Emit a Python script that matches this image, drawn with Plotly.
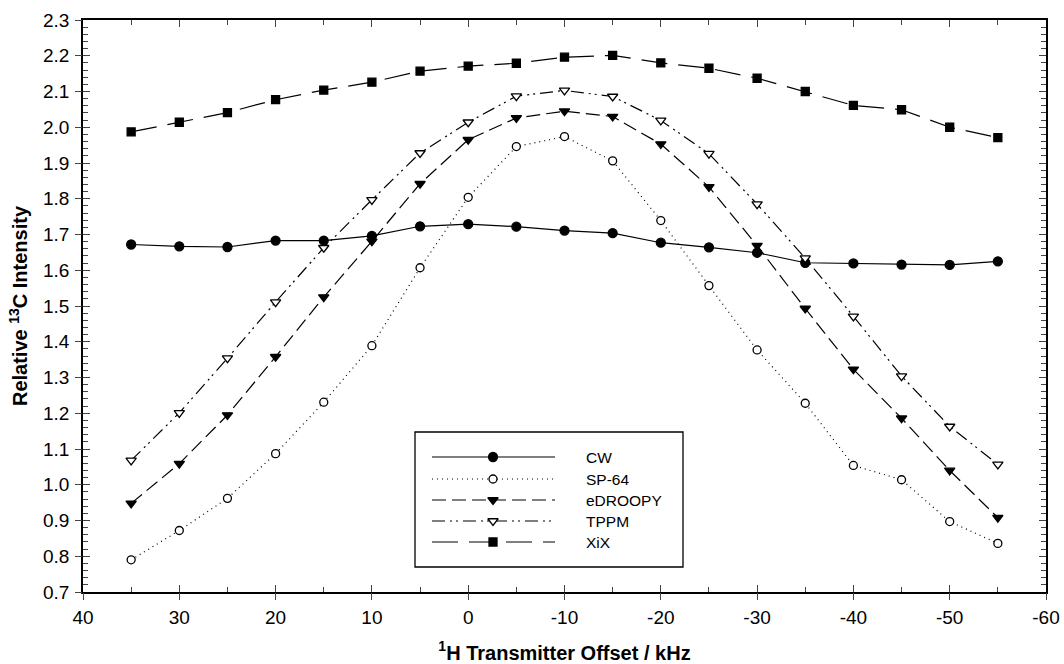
import plotly.graph_objects as go

offset = [35, 30, 25, 20, 15, 10, 5, 0, -5, -10, -15, -20, -25, -30, -35, -40, -45, -50, -55]
cw = [1.672, 1.667, 1.665, 1.683, 1.683, 1.696, 1.723, 1.729, 1.722, 1.711, 1.704, 1.677,
      1.664, 1.649, 1.621, 1.619, 1.616, 1.615, 1.625]
sp64 = [0.790, 0.872, 0.962, 1.087, 1.231, 1.389, 1.607, 1.804, 1.946, 1.974, 1.906, 1.739,
        1.557, 1.377, 1.228, 1.054, 1.014, 0.897, 0.836]
edroopy = [0.948, 1.059, 1.195, 1.358, 1.525, 1.681, 1.842, 1.965, 2.026, 2.045, 2.030, 1.953,
           1.833, 1.669, 1.493, 1.323, 1.186, 1.040, 0.908]
tppm = [1.068, 1.201, 1.354, 1.511, 1.663, 1.797, 1.928, 2.014, 2.087, 2.103, 2.086, 2.019,
        1.926, 1.785, 1.634, 1.471, 1.304, 1.163, 1.057]
xix = [1.987, 2.014, 2.041, 2.077, 2.104, 2.126, 2.157, 2.171, 2.179, 2.196, 2.201, 2.180,
       2.165, 2.137, 2.100, 2.061, 2.049, 2.000, 1.971]

series_names = ["CW", "SP-64", "eDROOPY", "TPPM", "XiX"]
series_values = [cw, sp64, edroopy, tppm, xix]

x_tickvals = [40, 30, 20, 10, 0, -10, -20, -30, -40, -50, -60]
x_ticktext = ["40", "30", "20", "10", "0", "-10", "-20", "-30", "-40", "-50", "-60"]

x_title = "<sup>1</sup>H Transmitter Offset / kHz"
y_title = "Relative <sup>13</sup>C Intensity"

# styles
dashes = ["solid", "1px,4px", "14px,6px", "13px,5px,2px,4px,2px,5px", "26px,11px"]
symbols = ["circle", "circle", "triangle-down", "triangle-down", "square"]
fills = ["black", "white", "black", "white", "black"]
sizes = [9, 8, 9, 9, 8]

W, H = 1064, 664
L, R, T, B = 83, 1046, 20, 592
FONT = "Liberation Sans, Arial, sans-serif"

fig = go.Figure()

for name, vals, dsh, sym, fc, sz in zip(series_names, series_values, dashes, symbols, fills, sizes):
    fig.add_trace(go.Scatter(
        x=offset, y=vals, mode="lines+markers", name=name,
        line=dict(color="black", width=1.2, dash=dsh),
        marker=dict(symbol=sym, size=sz, color=fc, opacity=1,
                    line=dict(color="black", width=1.3)),
        showlegend=False, cliponaxis=False,
    ))

# dummy trace to keep the crossing-tick overlay axes alive
fig.add_trace(go.Scatter(x=[None], y=[None], xaxis="x2", yaxis="y2", showlegend=False,
                         hoverinfo="skip"))

# custom legend (pixel layout converted to paper coords)
def px(xp):
    return (xp - L) / (R - L)

def py(yp):
    return (B - yp) / (B - T)

box = dict(x0=415, x1=683, y0=432, y1=567)
row_y = [457, 479, 500, 521, 542]
line_x0, line_x1, mark_x, text_x = 432, 555, 493, 584

shapes = [dict(type="rect", xref="paper", yref="paper",
               x0=px(box["x0"]), x1=px(box["x1"]), y0=py(box["y1"]), y1=py(box["y0"]),
               line=dict(color="black", width=1.3), fillcolor="white", layer="below")]
annotations = []
for i, name in enumerate(series_names):
    shapes.append(dict(type="line", xref="paper", yref="paper",
                       x0=px(line_x0), x1=px(line_x1), y0=py(row_y[i]), y1=py(row_y[i]),
                       line=dict(color="black", width=1.2, dash=dashes[i]), layer="below"))
    annotations.append(dict(xref="paper", yref="paper", x=px(text_x), y=py(row_y[i]),
                            text=name, showarrow=False, xanchor="left", yanchor="middle",
                            font=dict(family=FONT, size=15.5, color="black")))

fig.add_trace(go.Scatter(
    x=[px(mark_x)] * 5, y=[py(r) for r in row_y], xaxis="x3", yaxis="y3",
    mode="markers", showlegend=False, hoverinfo="skip", cliponaxis=False,
    marker=dict(symbol=symbols, size=sizes, color=fills, opacity=1,
                line=dict(color="black", width=1.3)),
))

TITLE_FONT = dict(size=20, family="Liberation Sans, Arial", weight="bold", color="black")

fig.update_layout(
    width=W, height=H,
    margin=dict(l=L, r=W - R, t=T, b=H - B),
    paper_bgcolor="white", plot_bgcolor="white",
    font=dict(family=FONT, color="black"),
    showlegend=False,
    xaxis=dict(range=[40, -60], tickvals=x_tickvals, ticktext=x_ticktext,
               ticks="inside", ticklen=7, tickwidth=1.3,
               minor=dict(dtick=5, tick0=0, ticks="inside", ticklen=5, tickwidth=1.2, showgrid=False),
               mirror="ticks", showline=True, linewidth=1.5, linecolor="black",
               showgrid=False, zeroline=False, tickfont=dict(size=19),
               ticklabelstandoff=7, automargin=False,
               title=dict(text=x_title, font=TITLE_FONT, standoff=19)),
    yaxis=dict(range=[0.7, 2.3], dtick=0.1, tick0=0.7, tickformat=".1f", ticks="inside",
               ticklen=7, tickwidth=1.3,
               minor=dict(dtick=0.02, ticks="inside", ticklen=5, tickwidth=1.2, showgrid=False),
               mirror="ticks", showline=True, linewidth=1.5, linecolor="black",
               showgrid=False, zeroline=False, tickfont=dict(size=19),
               ticklabelstandoff=8, automargin=False,
               title=dict(text=y_title, font=TITLE_FONT, standoff=10)),
    xaxis2=dict(overlaying="x", anchor="y", side="bottom", range=[40, -60], tickvals=x_tickvals,
                ticks="outside", ticklen=7, tickwidth=1.3, showticklabels=False,
                showline=False, showgrid=False, zeroline=False, automargin=False),
    yaxis2=dict(overlaying="y", anchor="x", side="left", range=[0.7, 2.3], dtick=0.1, tick0=0.7,
                ticks="outside", ticklen=7, tickwidth=1.3, showticklabels=False,
                showline=False, showgrid=False, zeroline=False, automargin=False),
    xaxis3=dict(overlaying="x", anchor="y3", range=[0, 1], visible=False),
    yaxis3=dict(overlaying="y", anchor="x3", range=[0, 1], visible=False),
    shapes=shapes, annotations=annotations,
)

fig.write_html("out.html")
